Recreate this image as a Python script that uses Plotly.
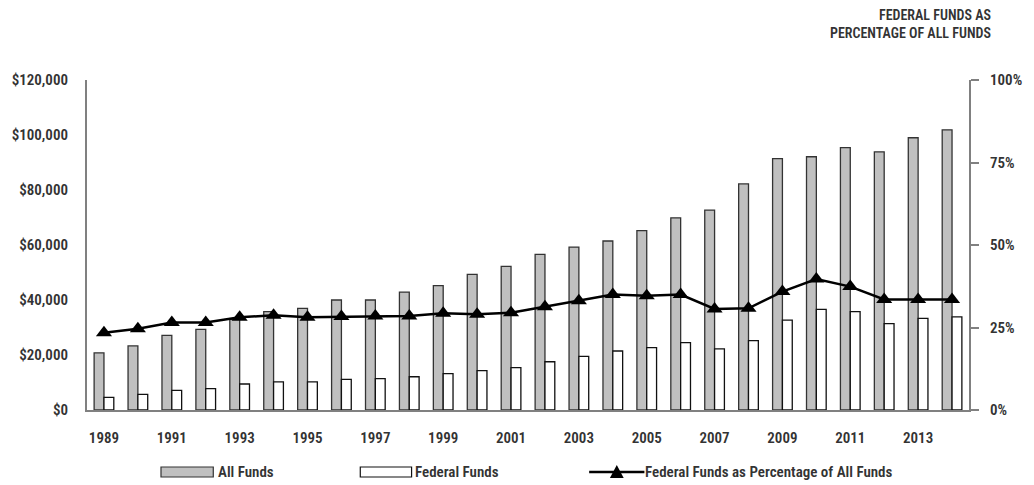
import plotly.graph_objects as go

# Annual funding, 1989-2014
years = list(range(1989, 2015))
all_funds = [20800, 23300, 27150, 29300, 33000, 35750, 36950, 40000, 40000, 42900,
             45200, 49300, 52250, 56600, 59250, 61450, 65200, 69900, 72700, 82200,
             91400, 92100, 95400, 93900, 99000, 101900]
federal_funds = [4600, 5700, 7150, 7750, 9450, 10200, 10200, 11150, 11400, 12100,
                 13200, 14300, 15400, 17550, 19500, 21450, 22650, 24500, 22200, 25200,
                 32700, 36600, 35750, 31400, 33300, 33900]
federal_pct = [23.4, 24.6, 26.5, 26.5, 28.1, 28.7, 28.1, 28.3, 28.5, 28.5,
               29.3, 29.0, 29.5, 31.3, 33.1, 35.0, 34.6, 35.0, 30.6, 30.8,
               35.9, 39.7, 37.4, 33.5, 33.5, 33.5]

left_ticks = [0, 20000, 40000, 60000, 80000, 100000, 120000]
left_labels = ["$0", "$20,000", "$40,000", "$60,000", "$80,000", "$100,000", "$120,000"]
right_ticks = [0, 25, 50, 75, 100]
right_labels = ["0%", "25%", "50%", "75%", "100%"]
year_ticks = list(range(1989, 2015, 2))

FONT = "Roboto Condensed, Roboto, sans-serif"
TEXT = "#333333"
AXIS = "#808080"
GRAY = "#c0c0c0"
WEIGHT = 600

fig = go.Figure()
fig.add_trace(go.Bar(x=years, y=all_funds, name="All Funds",
                     marker=dict(color=GRAY, line=dict(color="#333333", width=1.3))))
fig.add_trace(go.Bar(x=years, y=federal_funds, name="Federal Funds",
                     marker=dict(color="white", line=dict(color="#111111", width=1.3))))
fig.add_trace(go.Scatter(x=years, y=federal_pct, name="Federal Funds as Percentage of All Funds",
                         yaxis="y2", mode="lines+markers",
                         line=dict(color="black", width=2.5),
                         marker=dict(symbol="triangle-up", size=14, color="black")))

tick_font = dict(size=15, family=FONT, color=TEXT, weight=WEIGHT)

fig.update_layout(
    width=1034, height=485,
    margin=dict(l=83, r=57, t=80, b=75),
    paper_bgcolor="white", plot_bgcolor="white",
    barmode="group", bargap=0.42, bargroupgap=0,
    showlegend=False,
    font=dict(family=FONT, color=TEXT, size=14),
    xaxis=dict(range=[1988.5, 2014.5], tickmode="array", tickvals=year_ticks,
               ticktext=[str(y) for y in year_ticks],
               showline=True, linecolor=AXIS, linewidth=2, showgrid=False,
               ticks="", ticklabelstandoff=13, zeroline=False, tickfont=tick_font),
    yaxis=dict(range=[0, 120000], tickmode="array", tickvals=left_ticks,
               ticktext=left_labels, showline=True, linecolor=AXIS,
               linewidth=2, showgrid=False, zeroline=False, ticks="",
               ticklabelstandoff=14, tickfont=tick_font),
    yaxis2=dict(range=[0, 100], overlaying="y", side="right", tickmode="array",
                tickvals=right_ticks, ticktext=right_labels, showline=True,
                linecolor=AXIS, linewidth=2, showgrid=False, zeroline=False,
                ticks="outside", ticklen=8, tickwidth=2, tickcolor=AXIS,
                ticklabelstandoff=8, tickfont=tick_font),
)

def px(x):
    return (x - 83) / 894

def py(y):
    return (410 - y) / 330

# Title above the right axis
fig.add_annotation(text="FEDERAL FUNDS AS<br>PERCENTAGE OF ALL FUNDS",
                   xref="paper", yref="paper", x=px(1001), y=py(5),
                   xanchor="right", yanchor="top", align="right", showarrow=False,
                   font=dict(family=FONT, size=14, color=TEXT, weight=WEIGHT))

# Legend row below the axis
ly = py(472)
half_h = 5 / 330
legend_font = dict(family=FONT, size=15, color=TEXT, weight=WEIGHT)

fig.add_shape(type="rect", xref="paper", yref="paper",
              x0=px(158), x1=px(211), y0=ly - half_h, y1=ly + half_h,
              fillcolor=GRAY, line=dict(color="#333333", width=1.2))
fig.add_annotation(text="All Funds", xref="paper", yref="paper", x=px(214), y=ly,
                   xanchor="left", yanchor="middle", showarrow=False, font=legend_font)
fig.add_shape(type="rect", xref="paper", yref="paper",
              x0=px(360), x1=px(412), y0=ly - half_h, y1=ly + half_h,
              fillcolor="white", line=dict(color="#111111", width=1.2))
fig.add_annotation(text="Federal Funds", xref="paper", yref="paper", x=px(413), y=ly,
                   xanchor="left", yanchor="middle", showarrow=False, font=legend_font)
fig.add_shape(type="line", xref="paper", yref="paper",
              x0=px(592), x1=px(648), y0=ly, y1=ly,
              line=dict(color="black", width=2.5))
fig.add_shape(type="path", xref="paper", yref="paper",
              path=(f"M {px(613)},{py(478)} L {px(627)},{py(478)} "
                    f"L {px(620)},{py(465)} Z"),
              fillcolor="black", line=dict(color="black", width=0))
fig.add_annotation(text="Federal Funds as Percentage of All Funds", xref="paper", yref="paper",
                   x=px(647), y=ly, xanchor="left", yanchor="middle", showarrow=False,
                   font=legend_font)

fig.write_html("out.html")
